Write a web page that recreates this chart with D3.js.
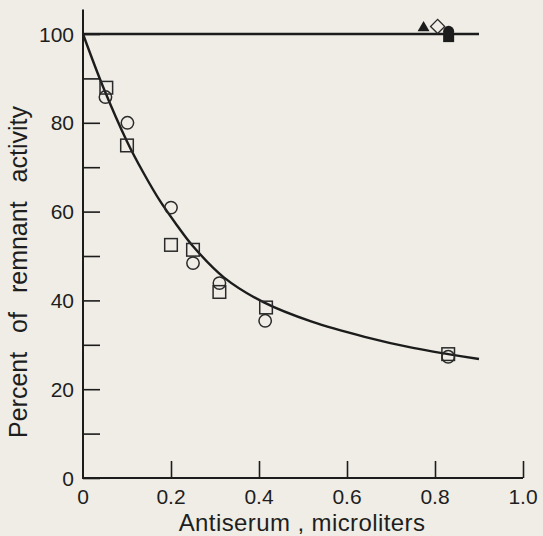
<!DOCTYPE html>
<html>
<head>
<meta charset="utf-8">
<script src="https://cdn.jsdelivr.net/npm/d3@7"></script>
<style>
  html, body { margin: 0; padding: 0; background: #efede5; }
  svg { display: block; }
  text { font-family: "Liberation Sans", Arial, sans-serif; fill: #1e1e1e; }
</style>
</head>
<body>
<svg id="chart" width="543" height="536"></svg>
<script>
// ---- data ----
const xTicks = [0, 0.2, 0.4, 0.6, 0.8, 1.0];
const xTickLabels = ["0", "0.2", "0.4", "0.6", "0.8", "1.0"];
const yMajorTicks = [0, 20, 40, 60, 80, 100];
const yMinorTicks = [10, 30, 50, 70, 90];

// open circles
const circleX = [0.051, 0.101, 0.200, 0.250, 0.310, 0.414, 0.830];
const circleY = [85.8, 80.0, 60.9, 48.4, 43.9, 35.4, 27.3];
// open squares
const squareX = [0.053, 0.100, 0.200, 0.250, 0.310, 0.416, 0.830];
const squareY = [87.9, 74.9, 52.5, 51.4, 41.9, 38.4, 27.9];

// fitted curve
const curveX = [0, 0.046, 0.100, 0.137, 0.175, 0.213, 0.250, 0.320, 0.410, 0.520, 0.640, 0.750, 0.830, 0.900];
const curveY = [100, 88.0, 75.8, 68.8, 62.4, 57.0, 52.2, 45.2, 39.6, 35.2, 31.8, 29.3, 27.9, 26.8];

// control line
const controlX = [0, 0.90];
const controlY = [100, 100];

// control markers near the top right
const triX = [0.774], triY = [101.4];
const diamondX = [0.806], diamondY = [101.7];
const dotX = [0.831], dotY = [100.6];
const fsqX = [0.831], fsqY = [99.3];

// ---- layout ----
const svg = d3.select("#chart");
const x = d3.scaleLinear().domain([0, 1.0]).range([83, 523]);
const y = d3.scaleLinear().domain([0, 100]).range([478, 34]);
const ink = "#1c1c1c";
const bg = "#efede5";

// axes
const yAxis = d3.axisRight(y)
  .tickValues(yMajorTicks.concat(yMinorTicks))
  .tickSize(17).tickFormat("");
const gy = svg.append("g").attr("transform", `translate(${x(0)},0)`).call(yAxis);
gy.select(".domain").remove();
gy.selectAll("line").attr("stroke", ink).attr("stroke-width", 1.6);
svg.append("line")
  .attr("x1", x(0)).attr("x2", x(0))
  .attr("y1", y(105.5)).attr("y2", y(0))
  .attr("stroke", ink).attr("stroke-width", 2);

const xAxis = d3.axisTop(x).tickValues(xTicks.slice(1)).tickSize(17).tickFormat("");
const gx = svg.append("g").attr("transform", `translate(0,${y(0)})`).call(xAxis);
gx.select(".domain").remove();
gx.selectAll("line").attr("stroke", ink).attr("stroke-width", 1.6);
svg.append("line")
  .attr("x1", x(0) - 1).attr("x2", x(1.0))
  .attr("y1", y(0)).attr("y2", y(0))
  .attr("stroke", ink).attr("stroke-width", 2);

// tick labels
svg.append("g").selectAll("text").data(yMajorTicks).join("text")
  .attr("x", 74).attr("y", d => y(d))
  .attr("dy", "0.36em")
  .attr("text-anchor", "end")
  .attr("font-size", 21)
  .text(d => d);

svg.append("g").selectAll("text").data(xTicks).join("text")
  .attr("x", d => x(d)).attr("y", 504)
  .attr("text-anchor", "middle")
  .attr("font-size", 21)
  .text((d, i) => xTickLabels[i]);

// axis titles
svg.append("text")
  .attr("transform", "translate(27,272) rotate(-90)")
  .attr("text-anchor", "middle")
  .attr("font-size", 25)
  .attr("word-spacing", 12)
  .text("Percent of remnant activity");

svg.append("text")
  .attr("x", 302).attr("y", 531)
  .attr("text-anchor", "middle")
  .attr("font-size", 24)
  .attr("letter-spacing", 0.4)
  .text("Antiserum , microliters");

// lines
const line = d3.line().x(d => x(d[0])).y(d => y(d[1]));
svg.append("path")
  .datum(controlX.map((v, i) => [v, controlY[i]]))
  .attr("d", line)
  .attr("fill", "none").attr("stroke", ink).attr("stroke-width", 2.4);

svg.append("path")
  .datum(curveX.map((v, i) => [v, curveY[i]]))
  .attr("d", line.curve(d3.curveCatmullRom.alpha(0.5)))
  .attr("fill", "none").attr("stroke", ink).attr("stroke-width", 2.4);

// markers
const mk = "#2a2a2a";
svg.append("g").selectAll("rect").data(squareX.map((v, i) => [v, squareY[i]])).join("rect")
  .attr("x", d => x(d[0]) - 6.3).attr("y", d => y(d[1]) - 6.3)
  .attr("width", 12.6).attr("height", 12.6)
  .attr("fill", "none").attr("stroke", mk).attr("stroke-width", 1.5);

svg.append("g").selectAll("circle").data(circleX.map((v, i) => [v, circleY[i]])).join("circle")
  .attr("cx", d => x(d[0])).attr("cy", d => y(d[1])).attr("r", 6.2)
  .attr("fill", "none").attr("stroke", mk).attr("stroke-width", 1.5);

svg.append("g").selectAll("path").data(triX.map((v, i) => [v, triY[i]])).join("path")
  .attr("transform", d => `translate(${x(d[0])},${y(d[1])})`)
  .attr("d", d3.symbol().type(d3.symbolTriangle).size(62)())
  .attr("fill", ink);

svg.append("g").selectAll("path").data(diamondX.map((v, i) => [v, diamondY[i]])).join("path")
  .attr("transform", d => `translate(${x(d[0])},${y(d[1])}) rotate(45)`)
  .attr("d", d3.symbol().type(d3.symbolSquare).size(100)())
  .attr("fill", bg).attr("stroke", mk).attr("stroke-width", 1.3);

svg.append("g").selectAll("rect").data(fsqX.map((v, i) => [v, fsqY[i]])).join("rect")
  .attr("x", d => x(d[0]) - 5.5).attr("y", d => y(d[1]) - 4.5)
  .attr("width", 11).attr("height", 9.5)
  .attr("fill", ink);

svg.append("g").selectAll("circle").data(dotX.map((v, i) => [v, dotY[i]])).join("circle")
  .attr("cx", d => x(d[0])).attr("cy", d => y(d[1])).attr("r", 5.5)
  .attr("fill", ink);
</script>
</body>
</html>
